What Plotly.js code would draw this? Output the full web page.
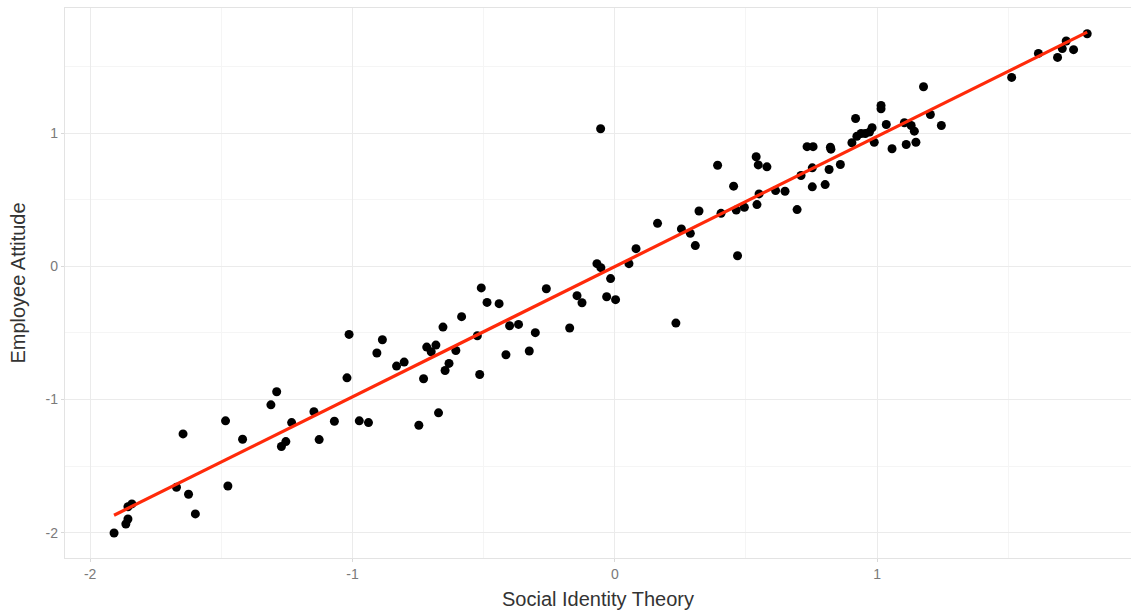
<!DOCTYPE html>
<html>
<head>
<meta charset="utf-8">
<script src="https://cdn.plot.ly/plotly-3.0.1.min.js"></script>
<style>html,body{margin:0;padding:0;background:#fff;}#chart{width:1131px;height:611px;}</style>
</head>
<body>
<div id="chart"></div>
<script>
const socialIdentity = [
 -1.909,-1.864,-1.856,-1.856,-1.841,-1.671,-1.646,-1.625,-1.599,-1.484,
 -1.475,-1.419,-1.311,-1.289,-1.271,-1.254,-1.232,-1.147,-1.127,-1.069,
 -1.013,-1.021,-0.974,-0.939,-0.907,-0.886,-0.832,-0.803,-0.747,-0.729,
 -0.717,-0.700,-0.682,-0.672,-0.655,-0.647,-0.632,-0.606,-0.584,-0.524,
 -0.515,-0.509,-0.487,-0.441,-0.415,-0.401,-0.367,-0.326,-0.303,-0.261,
 -0.172,-0.144,-0.125,-0.068,-0.053,-0.054,-0.031,-0.016,0.003,0.054,
 0.081,0.163,0.233,0.254,0.288,0.307,0.321,0.392,0.405,0.453,
 0.463,0.494,0.468,0.539,0.547,0.580,0.550,0.542,0.613,0.649,
 0.695,0.710,0.733,0.756,0.753,0.753,0.802,0.817,0.822,0.824,
 0.860,0.904,0.918,0.923,0.939,0.955,0.971,0.981,0.989,1.015,
 1.015,1.035,1.057,1.104,1.111,1.130,1.142,1.148,1.177,1.203,
 1.245,1.513,1.615,1.688,1.706,1.721,1.749,1.801
];
const employeeAttitude = [
 -2.002,-1.935,-1.897,-1.805,-1.784,-1.659,-1.258,-1.711,-1.859,-1.160,
 -1.649,-1.298,-1.040,-0.942,-1.353,-1.316,-1.173,-1.092,-1.301,-1.163,
 -0.511,-0.837,-1.160,-1.173,-0.651,-0.551,-0.749,-0.719,-1.193,-0.844,
 -0.606,-0.641,-0.591,-1.100,-0.456,-0.782,-0.729,-0.632,-0.378,-0.521,
 -0.812,-0.162,-0.271,-0.280,-0.664,-0.446,-0.436,-0.636,-0.498,-0.168,
 -0.463,-0.220,-0.273,0.020,-0.010,1.033,-0.228,-0.092,-0.250,0.020,
 0.133,0.323,-0.426,0.281,0.248,0.156,0.416,0.759,0.398,0.602,
 0.423,0.443,0.080,0.823,0.762,0.747,0.544,0.464,0.569,0.564,
 0.426,0.682,0.899,0.899,0.740,0.597,0.614,0.727,0.895,0.880,
 0.765,0.928,1.110,0.977,0.998,0.998,1.008,1.041,0.932,1.208,
 1.183,1.065,0.883,1.078,0.915,1.058,1.015,0.932,1.349,1.140,
 1.058,1.419,1.599,1.569,1.635,1.692,1.627,1.747
];
const xTicks = [-2,-1,0,1];
const yTicks = [-2,-1,0,1];

// ordinary least squares fit (like geom_smooth(method = "lm"))
const n = socialIdentity.length;
const mx = socialIdentity.reduce((a,b)=>a+b,0)/n;
const my = employeeAttitude.reduce((a,b)=>a+b,0)/n;
let sxy = 0, sxx = 0;
for (let i=0;i<n;i++){ sxy += (socialIdentity[i]-mx)*(employeeAttitude[i]-my); sxx += (socialIdentity[i]-mx)**2; }
const slope = sxy/sxx, intercept = my - slope*mx;
const xmin = Math.min(...socialIdentity), xmax = Math.max(...socialIdentity);
const fitX = [xmin, xmax];
const fitY = fitX.map(v => intercept + slope*v);

const traces = [
 {x: socialIdentity, y: employeeAttitude, type:'scatter', mode:'markers',
  marker:{color:'#000000', size:9}, hoverinfo:'x+y'},
 {x: fitX, y: fitY, type:'scatter', mode:'lines',
  line:{color:'#ff2a0a', width:3.2}, hoverinfo:'skip'}
];

const axisCommon = {
 showgrid:true, gridcolor:'#ebebeb', gridwidth:1,
 zeroline:false, showline:true, linecolor:'#e3e3e3', linewidth:1.2,
 ticks:'outside', ticklen:3, tickcolor:'#d9d9d9', tickwidth:1,
 tickfont:{family:'Liberation Sans, Arial, sans-serif', size:14, color:'#7a7a7a'},
 minor:{dtick:0.5, showgrid:true, gridcolor:'#f5f5f5', gridwidth:1, ticks:''}
};

const layout = {
 width:1131, height:611,
 margin:{l:65, r:0, t:8, b:53},
 paper_bgcolor:'#ffffff', plot_bgcolor:'#ffffff',
 showlegend:false,
 font:{family:'Liberation Sans, Arial, sans-serif'},
 xaxis: Object.assign({}, axisCommon, {
   range:[-2.096, 1.968], tickvals:xTicks, ticktext:xTicks.map(String), mirror:true,
   title:{text:'Social Identity Theory', font:{size:20, color:'#333333'}, standoff:11}
 }),
 yaxis: Object.assign({}, axisCommon, {
   range:[-2.19, 1.94], tickvals:yTicks, ticktext:yTicks.map(String),
   title:{text:'Employee Attitude', font:{size:20, color:'#333333'}, standoff:14}
 })
};

Plotly.newPlot('chart', traces, layout, {displayModeBar:false, staticPlot:true});
</script>
</body>
</html>
